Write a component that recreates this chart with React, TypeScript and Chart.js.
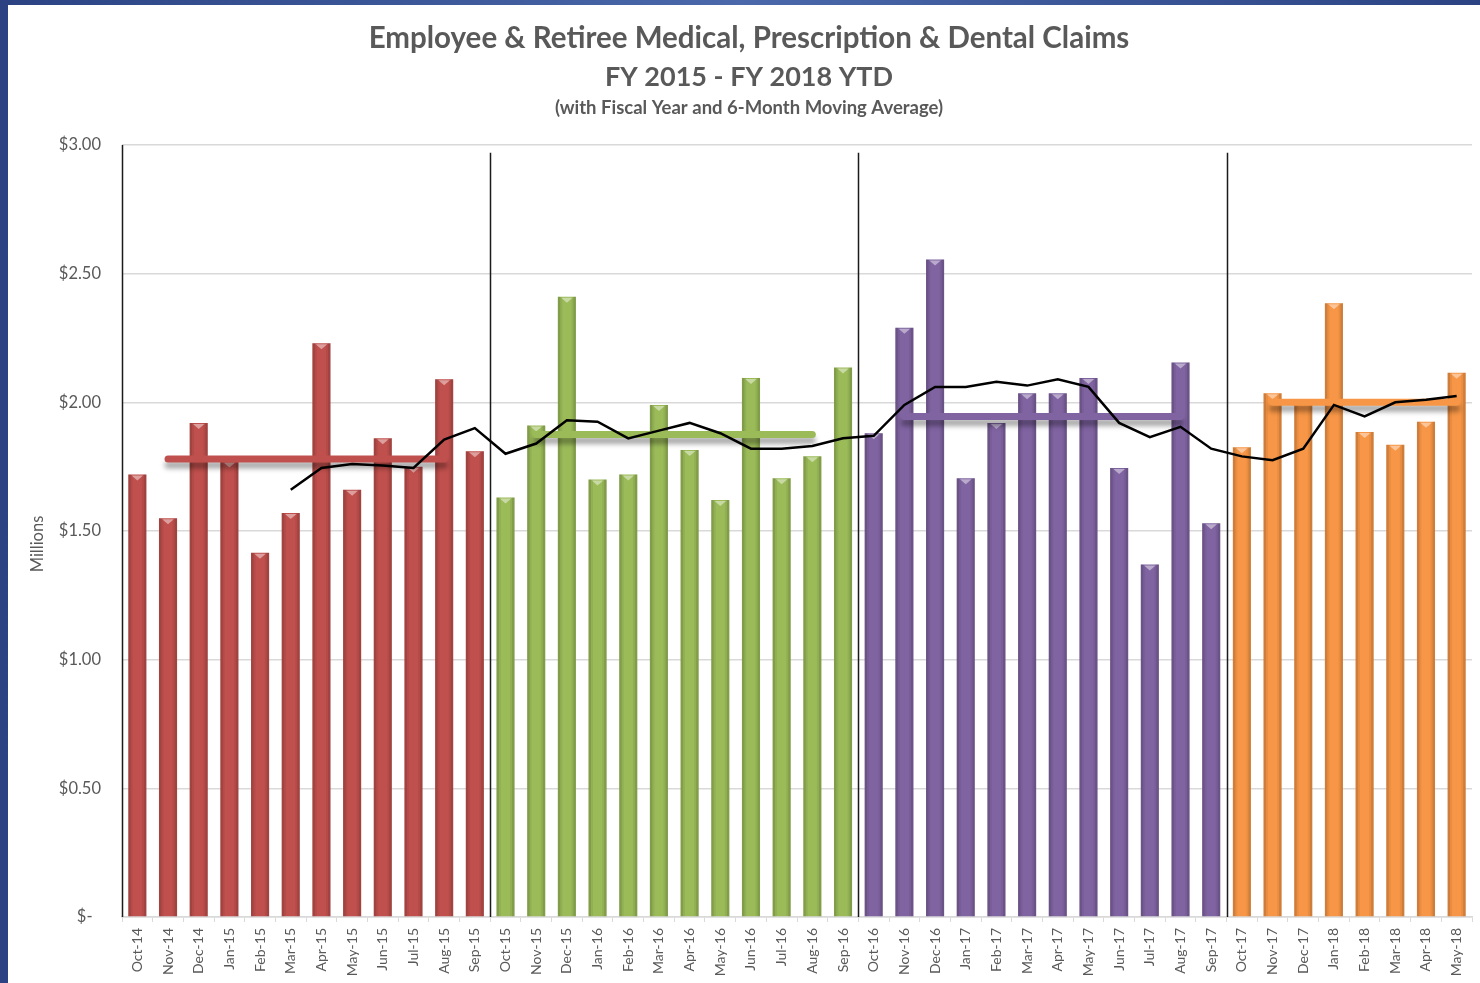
import React, { useEffect, useRef } from "react";
import { Chart, registerables } from "chart.js";

Chart.register(...registerables);

// Monthly claims, in millions of dollars
const months = [
  "Oct-14", "Nov-14", "Dec-14", "Jan-15", "Feb-15", "Mar-15", "Apr-15", "May-15", "Jun-15", "Jul-15", "Aug-15", "Sep-15",
  "Oct-15", "Nov-15", "Dec-15", "Jan-16", "Feb-16", "Mar-16", "Apr-16", "May-16", "Jun-16", "Jul-16", "Aug-16", "Sep-16",
  "Oct-16", "Nov-16", "Dec-16", "Jan-17", "Feb-17", "Mar-17", "Apr-17", "May-17", "Jun-17", "Jul-17", "Aug-17", "Sep-17",
  "Oct-17", "Nov-17", "Dec-17", "Jan-18", "Feb-18", "Mar-18", "Apr-18", "May-18",
];

const fy2015 = [1.72, 1.55, 1.92, 1.77, 1.415, 1.57, 2.23, 1.66, 1.86, 1.75, 2.09, 1.81];
const fy2016 = [1.63, 1.91, 2.41, 1.70, 1.72, 1.99, 1.815, 1.62, 2.095, 1.705, 1.79, 2.135];
const fy2017 = [1.88, 2.29, 2.555, 1.705, 1.92, 2.035, 2.035, 2.095, 1.745, 1.37, 2.155, 1.53];
const fy2018 = [1.825, 2.035, 2.01, 2.385, 1.885, 1.835, 1.925, 2.115];

const fiscalYears = [fy2015, fy2016, fy2017, fy2018];
const fiscalYearNames = ["FY 2015", "FY 2016", "FY 2017", "FY 2018 YTD"];
const fiscalYearColors = ["#C0504D", "#9BBB59", "#8064A2", "#F79646"];
const fiscalYearAverages = [1.78, 1.875, 1.945, 2.0];

// 6-month moving average, first available at Mar-15
const movingAverageStart = 5;
const movingAverage = [
  1.66, 1.745, 1.76, 1.755, 1.745, 1.855, 1.9,
  1.8, 1.84, 1.93, 1.925, 1.86, 1.89, 1.92, 1.88, 1.82, 1.82, 1.83, 1.86,
  1.87, 1.99, 2.06, 2.06, 2.08, 2.065, 2.09, 2.06, 1.92, 1.865, 1.905, 1.82,
  1.79, 1.775, 1.82, 1.99, 1.945, 2.0, 2.01, 2.025,
];

const titleLines = [
  "Employee & Retiree Medical, Prescription & Dental Claims",
  "FY 2015 - FY 2018 YTD",
  "(with Fiscal Year and 6-Month Moving Average)",
];
const yAxisTitle = "Millions";

const yMax = 3;
const yStep = 0.5;

const FONT = "Lato, 'Open Sans', sans-serif";
const TEXT = "#595959";

function buildDatasets() {
  const n = months.length;
  const datasets: any[] = [];
  let offset = 0;
  fiscalYears.forEach((vals, k) => {
    const bars: (number | null)[] = new Array(n).fill(null);
    vals.forEach((v, i) => (bars[offset + i] = v));
    datasets.push({
      type: "bar",
      label: fiscalYearNames[k],
      data: bars,
      backgroundColor: fiscalYearColors[k],
      borderWidth: 0,
      grouped: false,
      barPercentage: 0.59,
      categoryPercentage: 1,
      order: 3,
      bevel: true,
    });
    const avg: (number | null)[] = new Array(n).fill(null);
    const last = Math.min(offset + 10, offset + vals.length - 1);
    for (let i = offset + 1; i <= last; i++) avg[i] = fiscalYearAverages[k];
    datasets.push({
      type: "line",
      label: fiscalYearNames[k] + " average",
      data: avg,
      borderColor: fiscalYearColors[k],
      borderWidth: 7,
      borderCapStyle: "round",
      pointRadius: 0,
      spanGaps: false,
      order: 2,
      shadow: true,
    });
    offset += vals.length;
  });
  const ma: (number | null)[] = new Array(n).fill(null);
  movingAverage.forEach((v, i) => (ma[movingAverageStart + i] = v));
  datasets.push({
    type: "line",
    label: "6-Month Moving Average",
    data: ma,
    borderColor: "#000000",
    borderWidth: 2.5,
    pointRadius: 0,
    tension: 0,
    order: 1,
  });
  return datasets;
}

// Three-line heading and the rotated y-axis caption
const headingPlugin = {
  id: "heading",
  afterDraw(chart: any) {
    const c = chart.ctx;
    const cx = chart.width / 2 + 5;
    const specs = [
      { size: 29.5, y: 33 },
      { size: 27, y: 72 },
      { size: 18.5, y: 103 },
    ];
    c.save();
    c.fillStyle = TEXT;
    c.textAlign = "center";
    c.textBaseline = "middle";
    titleLines.forEach((t, i) => {
      c.font = `bold ${specs[i].size}px ${FONT}`;
      c.fillText(t, cx, specs[i].y);
    });
    c.translate(30, 539);
    c.rotate(-Math.PI / 2);
    c.font = `16.5px ${FONT}`;
    c.fillText(yAxisTitle, 0, 0);
    c.restore();
  },
};

// Soft drop shadow under the fiscal-year average lines
const shadowPlugin = {
  id: "avgShadow",
  beforeDatasetDraw(chart: any, args: any) {
    const ds = chart.data.datasets[args.index];
    if (ds.shadow) {
      const c = chart.ctx;
      c.save();
      c.shadowColor = "rgba(0,0,0,0.35)";
      c.shadowBlur = 5;
      c.shadowOffsetY = 6;
    }
  },
  afterDatasetDraw(chart: any, args: any) {
    const ds = chart.data.datasets[args.index];
    if (ds.shadow) chart.ctx.restore();
  },
};

// Bevelled look for the bars: darker side edges and a light notch on top
const bevelPlugin = {
  id: "barBevel",
  afterDatasetDraw(chart: any, args: any) {
    const ds = chart.data.datasets[args.index];
    if (!ds.bevel) return;
    const c = chart.ctx;
    const meta = args.meta;
    c.save();
    meta.data.forEach((el: any, i: number) => {
      if (ds.data[i] == null) return;
      const { x, y, base, width } = el.getProps(["x", "y", "base", "width"], true);
      const left = x - width / 2;
      const right = x + width / 2;
      c.fillStyle = "rgba(0,0,0,0.16)";
      c.fillRect(left, y, 2.5, base - y);
      c.fillRect(right - 2.5, y, 2.5, base - y);
      c.fillStyle = "rgba(0,0,0,0.06)";
      c.fillRect(left + 2.5, y, 2, base - y);
      c.fillRect(right - 4.5, y, 2, base - y);
      c.fillStyle = "rgba(255,255,255,0.45)";
      c.beginPath();
      c.moveTo(x - width * 0.32, y + 1);
      c.lineTo(x + width * 0.32, y + 1);
      c.lineTo(x, y + 6);
      c.closePath();
      c.fill();
    });
    c.restore();
  },
};

// Vertical dividers between fiscal years
const dividerPlugin = {
  id: "fyDividers",
  beforeDatasetsDraw(chart: any) {
    const xs = chart.scales.x;
    const ys = chart.scales.y;
    const half = (xs.getPixelForValue(1) - xs.getPixelForValue(0)) / 2;
    const c = chart.ctx;
    c.save();
    c.strokeStyle = "#1a1a1a";
    c.lineWidth = 1.5;
    let idx = 0;
    fiscalYears.forEach((vals, k) => {
      const px = Math.round(xs.getPixelForValue(idx) - half) + 0.5;
      const top = ys.getPixelForValue(k === 0 ? yMax : 2.97);
      c.beginPath();
      c.moveTo(px, top);
      c.lineTo(px, ys.getPixelForValue(0));
      c.stroke();
      idx += vals.length;
    });
    c.restore();
  },
};

export default function App() {
  const ref = useRef<HTMLCanvasElement>(null);

  useEffect(() => {
    if (!ref.current) return;
    const chart = new Chart(ref.current, {
      type: "bar",
      data: { labels: months, datasets: buildDatasets() },
      options: {
        responsive: false,
        animation: false,
        devicePixelRatio: 1,
        layout: { padding: { left: 0, right: 8, top: 140, bottom: 0 } },
        plugins: {
          legend: { display: false },
          tooltip: { enabled: false },
          title: { display: false },
          subtitle: { display: false },
        },
        scales: {
          x: {
            type: "category",
            offset: true,
            afterFit: (s: any) => {
              s.height = 66;
            },
            grid: {
              offset: true,
              drawOnChartArea: false,
              drawTicks: true,
              tickLength: 5,
              tickColor: "#D9D9D9",
            },
            border: { display: true, color: "#D9D9D9", width: 1.5 },
            ticks: {
              autoSkip: false,
              minRotation: 90,
              maxRotation: 90,
              padding: 6,
              color: TEXT,
              font: { family: FONT, size: 14 },
            },
          },
          y: {
            min: 0,
            max: yMax,
            afterFit: (s: any) => {
              s.width = 114;
            },
            border: { display: false },
            grid: { color: "#D9D9D9", lineWidth: 1.5, drawTicks: false },
            ticks: {
              stepSize: yStep,
              padding: 21,
              color: TEXT,
              font: { family: FONT, size: 16.5 },
              callback: (v: any) => (Number(v) === 0 ? "$-  " : "$" + Number(v).toFixed(2)),
            },
          },
        },
      },
      plugins: [dividerPlugin, shadowPlugin, bevelPlugin, headingPlugin],
    } as any);
    return () => chart.destroy();
  }, []);

  return (
    <div
      style={{
        position: "absolute",
        left: 0,
        top: 0,
        width: 1480,
        height: 983,
        overflow: "hidden",
        background: "linear-gradient(90deg, #2B4383 0%, #4A68AA 50%, #2B4383 100%)",
      }}
    >
      <div style={{ position: "absolute", left: 8, top: 5, width: 1472, height: 978, background: "#ffffff" }}>
        <canvas ref={ref} width={1472} height={978} style={{ display: "block", width: 1472, height: 978 }} />
      </div>
    </div>
  );
}
